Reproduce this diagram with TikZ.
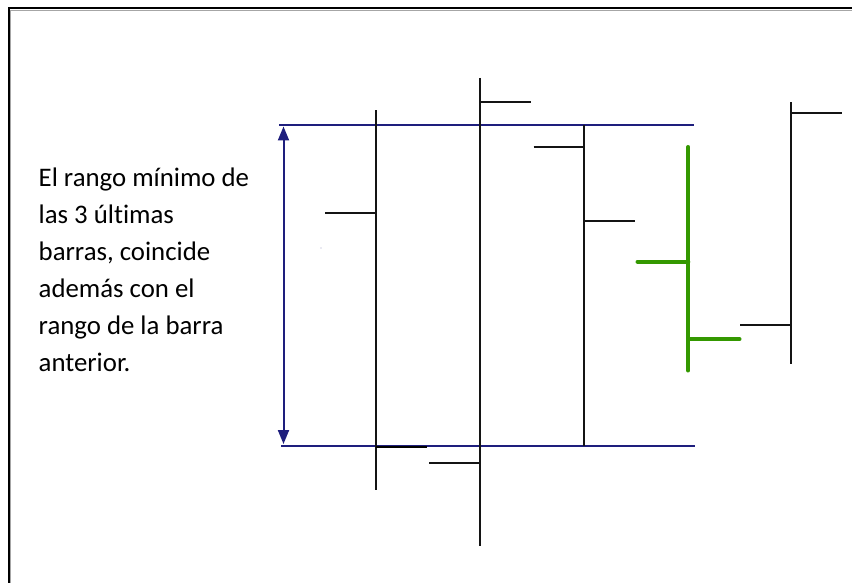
\documentclass[tikz,border=0pt]{standalone}
\usepackage{fontspec}
\setmainfont{Carlito}[Ligatures={NoCommon,NoRare}]
\usetikzlibrary{arrows.meta}
\definecolor{navy}{RGB}{30,30,125}
\definecolor{barblack}{RGB}{20,20,20}
\definecolor{bargreen}{RGB}{52,152,0}
\tikzset{
  bar/.style={draw=barblack,line width=2pt},
  tick/.style={draw=barblack,line width=2pt},
  gbar/.style={draw=bargreen,line width=4pt,line cap=round},
  level/.style={draw=navy,line width=2pt},
  rangearrow/.style={draw=navy,line width=2pt,{Triangle[length=14pt,width=11pt]}-{Triangle[length=14pt,width=11pt]}},
  txt/.style={anchor=base west,inner sep=0pt,font=\fontsize{26.8}{37}\selectfont}
}
\begin{document}
\begin{tikzpicture}[x=1pt,y=-1pt]
\clip (0,0) rectangle (852,583);
\fill[white] (0,0) rectangle (852,583);
% frame
\draw[black,line width=2pt] (8.5,8.5) rectangle (900,640);
\draw[gray!70,line width=1pt] (10.5,10.5) rectangle (900,640);
% text
\node[txt] (t1) at (38.5,186.5) {El rango mínimo de};
\node[txt] (t2) at (38.5,223.5) {las 3 últimas};
\node[txt] (t3) at (38.5,260.5) {barras, coincide};
\node[txt] (t4) at (38.5,297.5) {además con el};
\node[txt] (t5) at (38.5,334.5) {rango de la barra};
\node[txt] (t6) at (38.5,371.5) {anterior.};
% range levels
\coordinate (hl) at (279,125);
\coordinate (hr) at (693.5,125);
\coordinate (ll) at (281,445.5);
\coordinate (lr) at (695,445.5);
\draw[level] (hl) -- (hr);
\draw[level] (ll) -- (lr);
\coordinate (at) at (283.5,126.5);
\coordinate (ab) at (283.5,444);
\draw[rangearrow] (at) -- (ab);
% tiny dot
\fill[navy!40] (321,248) circle (0.7);
% bar 1
\coordinate (b1t) at (375.5,110.5);
\coordinate (b1b) at (375.5,490);
\draw[bar] (b1t) -- (b1b);
\coordinate (b1o) at (325,213.3);
\draw[tick] (b1o) -- (375.5,213.3);
\coordinate (b1c) at (427,447);
\draw[draw=black,line width=2.8pt] (375.5,447) -- (b1c);
% bar 2
\coordinate (b2t) at (480,78);
\coordinate (b2b) at (480,546);
\draw[bar] (b2t) -- (b2b);
\coordinate (b2c) at (531,102.5);
\draw[tick] (480,102.5) -- (b2c);
\coordinate (b2o) at (429,463.3);
\draw[tick] (b2o) -- (480,463.3);
% bar 3
\coordinate (b3t) at (584,125);
\coordinate (b3b) at (584,445.5);
\draw[bar] (b3t) -- (b3b);
\coordinate (b3o) at (533.5,147.3);
\draw[tick] (b3o) -- (584,147.3);
\coordinate (b3c) at (635,221.3);
\draw[tick] (584,221.3) -- (b3c);
% green bar
\coordinate (gt) at (688.3,147);
\coordinate (gb) at (688.3,370.5);
\draw[gbar] (gt) -- (gb);
\coordinate (go) at (637.5,261.7);
\draw[gbar] (go) -- (688.3,261.7);
\coordinate (gc) at (739.5,339.3);
\draw[gbar] (688.3,339.3) -- (gc);
% bar 5
\coordinate (b5t) at (790.7,102.5);
\coordinate (b5b) at (790.7,364);
\draw[bar] (b5t) -- (b5b);
\coordinate (b5c) at (841.7,113.3);
\draw[tick] (790.7,113.3) -- (b5c);
\coordinate (b5o) at (740,325.3);
\draw[tick] (b5o) -- (790.7,325.3);
\end{tikzpicture}
\end{document}
